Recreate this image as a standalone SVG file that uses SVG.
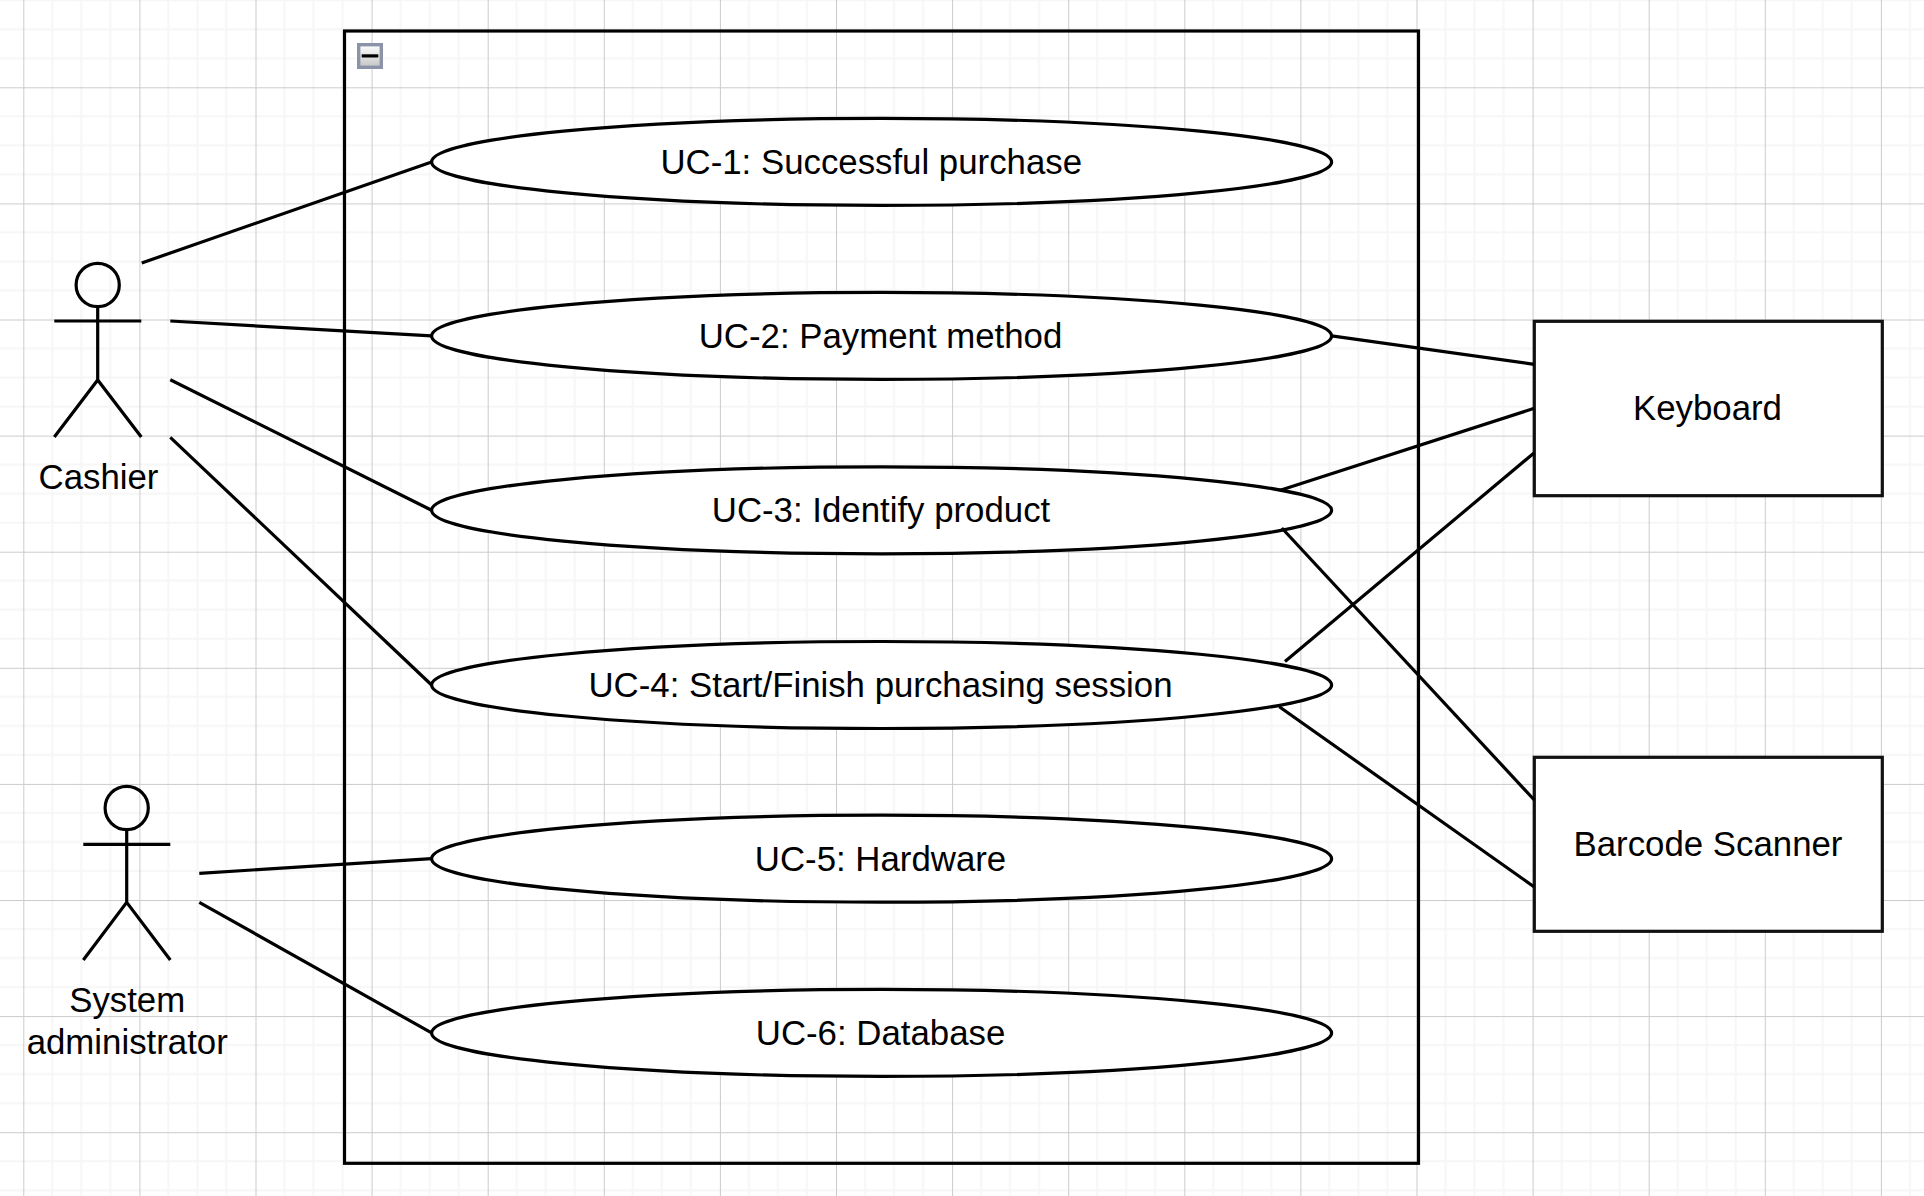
<svg xmlns="http://www.w3.org/2000/svg" width="1924" height="1196" viewBox="0 0 1924 1196">
<style>
.s{fill:none;stroke:#000;stroke-width:3.2}
.f{fill:#fff;stroke:#000;stroke-width:3.2}
.c{fill:none;stroke:#000;stroke-width:3.2}
text{font-family:"Liberation Sans",Arial,sans-serif;font-size:34.8px;fill:#000;text-anchor:middle}
</style>
<defs>
<pattern id="grid" width="116.1" height="116.1" patternUnits="userSpaceOnUse" patternTransform="translate(23.3 -28.8)">
<path d="M29 0V116.1M58 0V116.1M87 0V116.1M0 29H116.1M0 58H116.1M0 87H116.1" stroke="#f6f6f6" stroke-width="2" fill="none"/>
<path d="M0 0V116.1M0 0H116.1" stroke="#cbcbcb" stroke-width="2" fill="none"/>
</pattern>
<linearGradient id="icon" x1="0" y1="0" x2="0" y2="1"><stop offset="0" stop-color="#fff"/><stop offset="1" stop-color="#c4c4c4"/></linearGradient>
</defs>
<rect width="1924" height="1196" fill="#fff"/>
<rect width="1924" height="1196" fill="url(#grid)"/>
<g id="system">
<rect class="s" x="344.5" y="31" width="1074" height="1132.3"/>
<g id="collapse"><rect x="358.7" y="44.7" width="22.6" height="22.6" fill="url(#icon)" stroke="#8a93a8" stroke-width="3.4"/><rect x="361.7" y="54.3" width="16.6" height="3.2" fill="#000"/></g>
</g>
<g id="uc1"><ellipse class="f" cx="881.6" cy="161.9" rx="450" ry="43.5"/><text x="871.2" y="173.8">UC-1: Successful purchase</text></g>
<g id="uc2"><ellipse class="f" cx="881.6" cy="335.9" rx="450" ry="43.5"/><text x="880.5" y="347.9">UC-2: Payment method</text></g>
<g id="uc3"><ellipse class="f" cx="881.6" cy="510.3" rx="450" ry="43.5"/><text x="881" y="522.2">UC-3: Identify product</text></g>
<g id="uc4"><ellipse class="f" cx="881.6" cy="685" rx="450" ry="43.5"/><text x="880.5" y="696.8">UC-4: Start/Finish purchasing session</text></g>
<g id="uc5"><ellipse class="f" cx="881.6" cy="858.7" rx="450" ry="43.5"/><text x="880.5" y="870.7">UC-5: Hardware</text></g>
<g id="uc6"><ellipse class="f" cx="881.6" cy="1032.9" rx="450" ry="43.5"/><text x="880.5" y="1044.9">UC-6: Database</text></g>
<g id="cashier"><circle class="s" cx="97.7" cy="285" r="21.6"/><path class="s" d="M97.7 306.6V380M54.3 321H141.3M54.3 437L97.7 380L141.3 437"/><text x="98.5" y="488.7">Cashier</text></g>
<g id="admin"><circle class="s" cx="126.7" cy="808" r="21.6"/><path class="s" d="M126.7 829.6V902.3M83.3 844.3H170.3M83.3 960L126.7 902.3L170.3 960"/><text x="127.2" y="1011.9">System</text><text x="127.2" y="1053.9">administrator</text></g>
<g id="keyboard"><rect x="1534.3" y="321.3" width="348" height="174.4" fill="#fff" stroke="#111" stroke-width="3.2"/><text x="1707.5" y="420.3">Keyboard</text></g>
<g id="scanner"><rect x="1534.3" y="757.3" width="348" height="174" fill="#fff" stroke="#111" stroke-width="3.2"/><text x="1708" y="855.7">Barcode Scanner</text></g>
<g id="connectors">
<path class="c" d="M141.7 263L431.6 161.9"/>
<path class="c" d="M170.3 321L431.6 335.9"/>
<path class="c" d="M170.3 379.7L431.6 510.3"/>
<path class="c" d="M170.3 437.3L431.6 685"/>
<path class="c" d="M199.3 873.3L431.6 858.7"/>
<path class="c" d="M199.3 902.3L431.6 1032.9"/>
<path class="c" d="M1331.6 335.9L1534.3 364.3"/>
<path class="c" d="M1279.5 490.5L1534.3 408.3"/>
<path class="c" d="M1285 661.5L1534.3 452.7"/>
<path class="c" d="M1281.8 528L1534.3 800"/>
<path class="c" d="M1279.3 706.7L1534.3 887"/>
</g>
</svg>
